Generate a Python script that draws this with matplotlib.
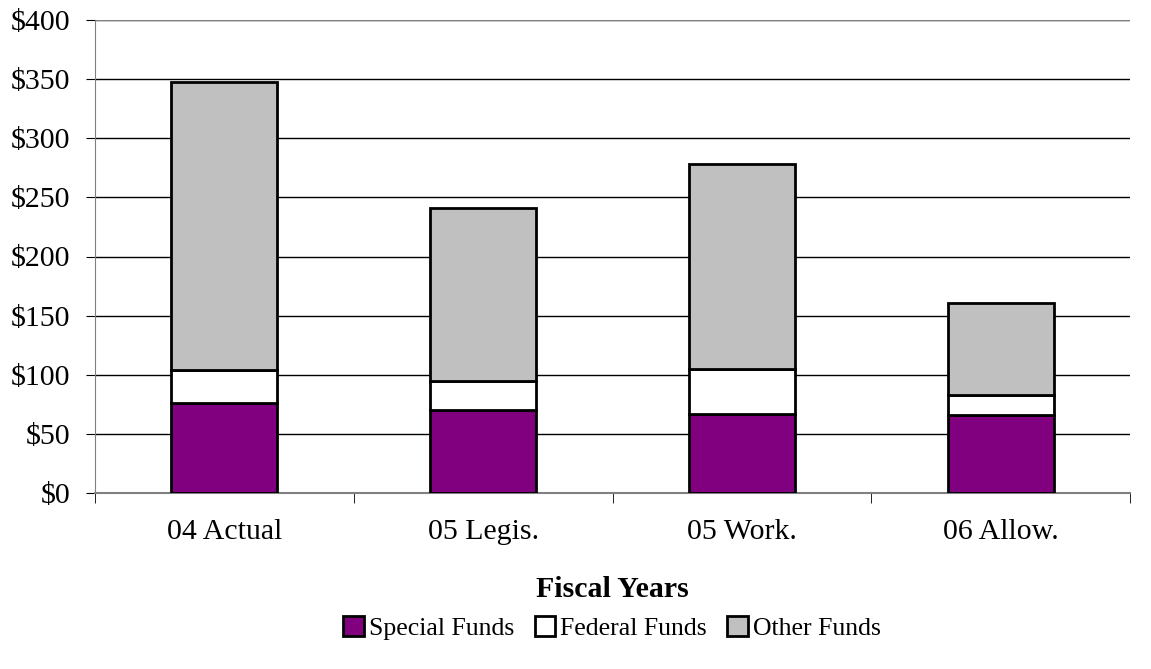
import matplotlib
matplotlib.use('Agg')
import matplotlib.pyplot as plt
import numpy as np

# fiscal year categories and fund amounts (millions)
years = ['04 Actual', '05 Legis.', '05 Work.', '06 Allow.']
special = [75.7, 69.9, 66.5, 66.0]
federal = [28.2, 24.8, 38.2, 17.2]
other = [244.0, 146.6, 173.5, 77.5]

plt.rcParams['font.family'] = ['Liberation Serif', 'DejaVu Serif']

fig = plt.figure(figsize=(11.51, 6.69), dpi=100)
ax = fig.add_axes([95/1151, 1 - 493/669, 1035/1151, 473/669])

x = np.arange(len(years))
w = 0.41
special = np.array(special)
federal = np.array(federal)
other = np.array(other)

ax.bar(x, special, w, color='#800080', edgecolor='black', linewidth=2, label='Special Funds', zorder=3)
ax.bar(x, federal, w, bottom=special, color='white', edgecolor='black', linewidth=2, label='Federal Funds', zorder=3)
ax.bar(x, other, w, bottom=special + federal, color='#c0c0c0', edgecolor='black', linewidth=2, label='Other Funds', zorder=3)

ax.set_xlim(-0.5, len(years) - 0.5)
ax.set_ylim(0, 400)
ax.set_yticks(range(0, 401, 50))
ax.set_yticklabels(['$%d' % v for v in range(0, 401, 50)], fontsize=21.5)
ax.yaxis.grid(True, color='black', linewidth=1)
ax.set_axisbelow(True)
ax.axhline(400, color='#808080', linewidth=1.5, zorder=2)

ax.set_xticks(x)
ax.set_xticklabels(years, fontsize=21.5)
ax.set_xticks(np.arange(-0.5, len(years), 1.0), minor=True)
ax.tick_params(axis='x', which='major', length=0, pad=19)
ax.tick_params(axis='x', which='minor', length=7, direction='out', color='black')
ax.tick_params(axis='y', length=6.5, direction='out', color='black', pad=11)

ax.spines['top'].set_visible(False)
ax.spines['right'].set_visible(False)
ax.spines['left'].set_color('#808080')
ax.spines['bottom'].set_color('#808080')
ax.spines['bottom'].set_linewidth(1.5)

ax.set_xlabel('Fiscal Years', fontsize=21.5, fontweight='bold', labelpad=22)

fig.legend(loc='center', bbox_to_anchor=(612/1151, 1 - 628/669), ncol=3, frameon=False,
           fontsize=18.5, handlelength=0.8, handleheight=0.8, handletextpad=0.2, columnspacing=0.8)

fig.savefig('out.png', dpi=100)
